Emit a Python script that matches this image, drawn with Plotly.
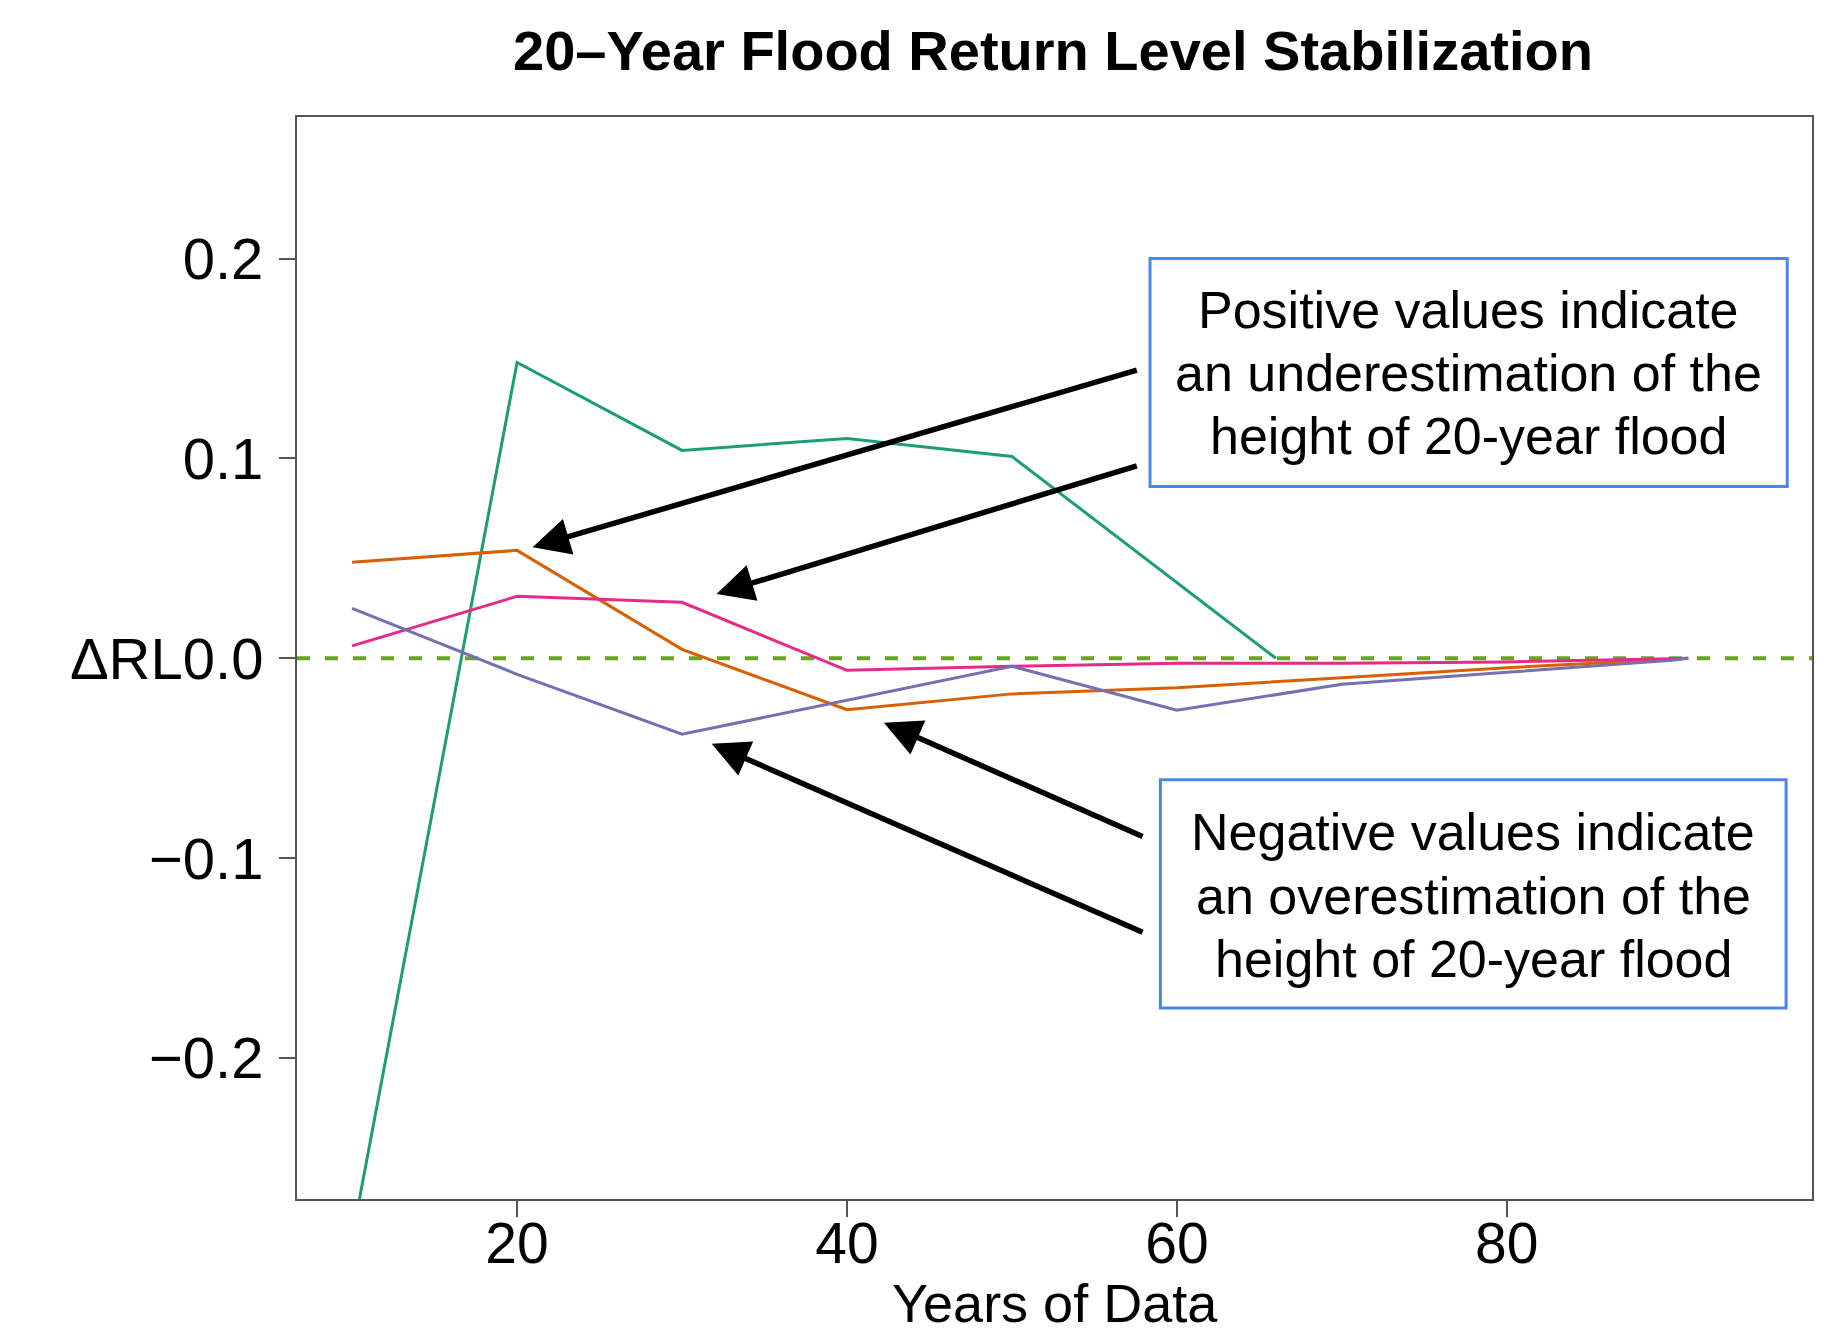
import plotly.graph_objects as go

# ---- data ----
x_green = [10, 20, 30, 40, 50, 66]
y_green = [-0.29, 0.148, 0.104, 0.110, 0.101, 0.0]

x_common = [10, 20, 30, 40, 50, 60, 70, 80, 90, 91]
y_orange = [0.048, 0.054, 0.0045, -0.0257, -0.0178, -0.0147, -0.0097, -0.0047, -0.0005, 0.0]
y_pink = [0.0062, 0.031, 0.028, -0.0060, -0.0040, -0.0025, -0.0025, -0.0018, -0.0002, 0.0]
y_purple = [0.025, -0.008, -0.038, -0.021, -0.004, -0.026, -0.013, -0.007, -0.001, 0.0]

x_ticks = [20, 40, 60, 80]
y_ticks = [-0.2, -0.1, 0.0, 0.1, 0.2]
y_ticktext = ["\u22120.2", "\u22120.1", "\u0394RL0.0", "0.1", "0.2"]

title_text = "20\u2013Year Flood Return Level Stabilization"
x_label = "Years of Data"
pos_lines = ["Positive values indicate", "an underestimation of the", "height of 20-year flood"]
neg_lines = ["Negative values indicate", "an overestimation of the", "height of 20-year flood"]

# arrows: (head_x, head_y, tail_x, tail_y)
arrows = [
    (20.94, 0.0556, 57.66, 0.1444),
    (32.09, 0.0322, 57.66, 0.0965),
    (42.24, -0.0322, 58.01, -0.0895),
    (31.80, -0.0427, 58.01, -0.1374),
]

FONT = "Liberation Sans, Arial, Helvetica, sans-serif"

# page has 8px body margin; figure placed at (8,8)
W, H = 1819, 1325
L, R, T, B = 289, 15, 109, 134

fig = go.Figure()
fig.add_trace(go.Scatter(x=x_green, y=y_green, mode="lines",
                         line=dict(color="#1B9E77", width=3), showlegend=False))
fig.add_trace(go.Scatter(x=x_common, y=y_orange, mode="lines",
                         line=dict(color="#D95F02", width=3), showlegend=False))
fig.add_trace(go.Scatter(x=x_common, y=y_pink, mode="lines",
                         line=dict(color="#E7298A", width=3), showlegend=False))
fig.add_trace(go.Scatter(x=x_common, y=y_purple, mode="lines",
                         line=dict(color="#7570B3", width=3), showlegend=False))

shapes = [
    dict(type="line", xref="paper", yref="y", x0=0, x1=1, y0=0, y1=0,
         line=dict(color="#66A61E", width=4, dash="13px,15px"), layer="below"),
    dict(type="rect", xref="x", yref="y", x0=58.37, x1=97.0, y0=0.086, y1=0.2,
         line=dict(color="#4A86E8", width=3), fillcolor="white"),
    dict(type="rect", xref="x", yref="y", x0=59.0, x1=96.93, y0=-0.1749, y1=-0.0608,
         line=dict(color="#4A86E8", width=3), fillcolor="white"),
]

annotations = []
for ys, line in zip([0.1743, 0.1427, 0.1111], pos_lines):
    annotations.append(dict(x=77.68, y=ys, xref="x", yref="y", text=line, showarrow=False,
                            font=dict(family=FONT, size=52, color="black"),
                            xanchor="center", yanchor="middle"))
for ys, line in zip([-0.0871, -0.1187, -0.1503], neg_lines):
    annotations.append(dict(x=77.97, y=ys, xref="x", yref="y", text=line, showarrow=False,
                            font=dict(family=FONT, size=52, color="black"),
                            xanchor="center", yanchor="middle"))
for hx, hy, tx, ty in arrows:
    annotations.append(dict(x=hx, y=hy, ax=tx, ay=ty, xref="x", yref="y", axref="x", ayref="y",
                            text="", showarrow=True, arrowhead=2, arrowsize=1.35,
                            arrowwidth=5.5, arrowcolor="black"))

plot_h = H - T - B
annotations.append(dict(x=0.5, y=-(1303 - 8 - (H - B)) / plot_h, xref="paper", yref="paper",
                        text=x_label, showarrow=False, yanchor="middle", borderpad=0,
                        font=dict(family=FONT, size=54, color="black")))

fig.update_layout(
    width=W, height=H,
    margin=dict(l=L, r=R, t=T, b=B),
    paper_bgcolor="white", plot_bgcolor="white",
    title=dict(text="<b>" + title_text + "</b>", x=(1053 - 8) / W, xanchor="center",
               y=1 - (50 - 8) / H, yanchor="middle",
               font=dict(family=FONT, size=56, color="black")),
    shapes=shapes,
    annotations=annotations,
    showlegend=False,
)

fig.update_xaxes(range=[6.66, 98.5], tickvals=x_ticks, ticks="outside", ticklen=16,
                 tickwidth=2, tickcolor="#555555", showgrid=False, zeroline=False,
                 showline=True, linecolor="#555555", linewidth=2, mirror=True,
                 tickfont=dict(family=FONT, size=57, color="black"), ticklabelstandoff=-22)
fig.update_yaxes(range=[-0.2705, 0.2708], tickvals=y_ticks, ticktext=y_ticktext,
                 ticks="outside", ticklen=16, tickwidth=2, tickcolor="#555555",
                 showgrid=False, zeroline=False, showline=True, linecolor="#555555",
                 linewidth=2, mirror=True,
                 tickfont=dict(family=FONT, size=58, color="black"), ticklabelstandoff=4)

fig.write_html("out.html")
